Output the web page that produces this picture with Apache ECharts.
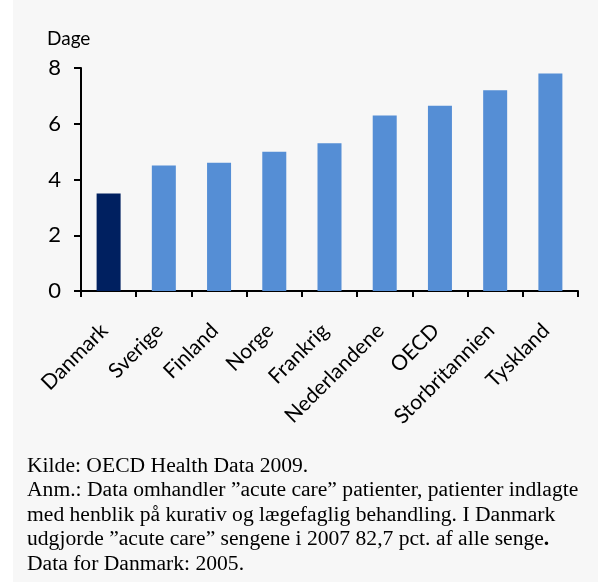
<!DOCTYPE html>
<html>
<head>
<meta charset="utf-8">
<script src="https://cdn.jsdelivr.net/npm/echarts@6/dist/echarts.min.js"></script>
<style>
  html, body { margin: 0; padding: 0; background: #ffffff; }
  #chart { width: 598px; height: 582px; }
</style>
</head>
<body>
<div id="chart"></div>
<script>
// Average length of stay (days), acute care
const countries = ['Danmark', 'Sverige', 'Finland', 'Norge', 'Frankrig', 'Nederlandene', 'OECD', 'Storbritannien', 'Tyskland'];
const days = [3.5, 4.5, 4.6, 5.0, 5.3, 6.3, 6.65, 7.2, 7.8];
const highlighted = 'Danmark';
const yTicks = [0, 2, 4, 6, 8];

const noteLines = [
  'Kilde: OECD Health Data 2009.',
  'Anm.: Data omhandler \u201dacute care\u201d patienter, patienter indlagte',
  'med henblik p\u00e5 kurativ og l\u00e6gefaglig behandling. I Danmark',
  'udgjorde \u201dacute care\u201d sengene i 2007 82,7 pct. af alle senge{b|.}',
  'Data for Danmark: 2005.'
];

const chart = echarts.init(document.getElementById('chart'));

chart.setOption({
  backgroundColor: '#ffffff',
  animation: false,
  graphic: [
    {
      type: 'rect',
      z: -10,
      shape: { x: 13, y: 0, width: 585, height: 582 },
      style: { fill: '#f7f7f7' }
    },
    {
      type: 'text',
      left: 47,
      top: 29,
      style: {
        text: 'Dage',
        font: '19px Lato',
        fill: '#000000'
      }
    },
    {
      type: 'text',
      left: 27,
      top: 454,
      style: {
        text: noteLines.join('\n'),
        font: '21.6px "Liberation Serif"',
        lineHeight: 24.5,
        fill: '#000000',
        rich: {
          b: { font: 'bold 21.6px "Liberation Serif"', lineHeight: 24.5, fill: '#000000' }
        }
      }
    }
  ],
  grid: { left: 81, right: 20, top: 68, bottom: 291 },
  xAxis: {
    type: 'category',
    data: countries,
    axisLine: { lineStyle: { color: '#000000', width: 2 } },
    axisTick: { show: true, length: 6, lineStyle: { color: '#000000', width: 2 } },
    axisLabel: {
      rotate: 45,
      margin: 32,
      padding: [0, 6, 0, 0],
      interval: 0,
      fontFamily: 'Lato',
      fontSize: 21,
      color: '#000000'
    }
  },
  yAxis: {
    type: 'value',
    min: 0,
    max: 8,
    interval: 2,
    splitLine: { show: false },
    axisLine: { show: true, lineStyle: { color: '#000000', width: 2 } },
    axisTick: { show: true, length: 7, lineStyle: { color: '#000000', width: 2 } },
    axisLabel: {
      margin: 20,
      fontFamily: 'Lato',
      fontSize: 22,
      color: '#000000',
      formatter: v => (yTicks.includes(v) ? String(v) : '')
    }
  },
  series: [{
    type: 'bar',
    barWidth: 24,
    data: countries.map((c, i) => ({
      value: days[i],
      itemStyle: { color: c === highlighted ? '#002060' : '#558ed5' }
    }))
  }]
});
</script>
</body>
</html>
